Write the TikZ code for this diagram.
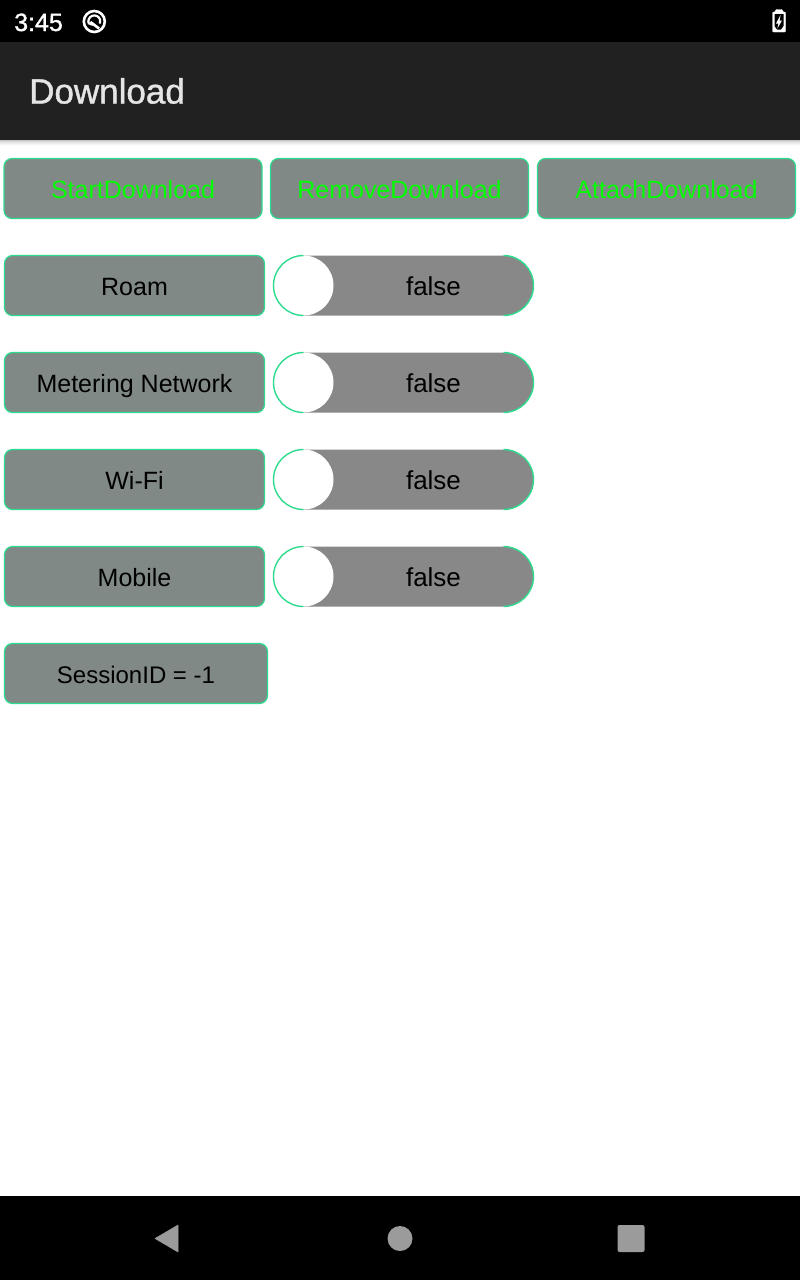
\documentclass[tikz,border=0pt]{standalone}
\usepackage{fontspec}
\setmainfont{Liberation Sans}
\newfontfamily\titlefont[FakeBold=1.2]{Liberation Sans}
\definecolor{appbar}{HTML}{212121}
\definecolor{btngray}{HTML}{808985}
\definecolor{trackgray}{HTML}{888888}
\definecolor{edgegreen}{HTML}{2EDC8F}
\definecolor{navgray}{HTML}{9B9B9B}
\definecolor{labelgreen}{HTML}{00FF00}
\tikzset{
  btn/.style={draw=edgegreen, line width=1.2pt, fill=btngray, rounded corners=8pt, inner sep=0pt,
    text=black, minimum height=60pt, text height=19pt, text depth=0pt, font=\fontsize{25}{28}\selectfont},
  greenbtn/.style={btn, text=labelgreen, minimum width=258pt},
  rowbtn/.style={btn, minimum width=260pt},
  track/.style={fill=trackgray, rounded corners=30pt, inner sep=0pt, minimum width=260pt, minimum height=60pt,
    text height=19pt, text depth=0pt, font=\fontsize{26}{28}\selectfont, text=black, text width=199pt, align=center},
  knob/.style={circle, fill=white, inner sep=0pt, minimum size=60pt},
  edgearc/.style={edgegreen, line width=1.4pt},
  navicon/.style={fill=navgray, draw=navgray, line width=0.5pt, line join=round},
}
\begin{document}
\begin{tikzpicture}[x=1pt,y=-1pt]
  \useasboundingbox (0,0) rectangle (800,1280);
  \fill[white] (0,0) rectangle (800,1280);

  % status bar, app bar, navigation bar
  \fill[black] (0,0) rectangle (800,42);
  \fill[appbar] (0,42) rectangle (800,140);
  \foreach \i/\shade in {0/22,1/16,2/11,3/7,4/4,5/2}
    \fill[black!\shade] (0,140+\i) rectangle (800,141+\i);
  \fill[black] (0,1196) rectangle (800,1280);

  \node[text=white, font=\fontsize{25}{28}\selectfont\titlefont, anchor=base west, inner sep=0pt] (clock) at (14,31) {3:45};
  \node[circle, draw=white, line width=2.6pt, minimum size=21pt, inner sep=0pt] (dnd) at (94.3,21.5) {};
  \draw[white, line width=2.2pt] (88.7,23.5) arc (160:380:6);
  \draw[white, line width=2.6pt] (90.5,22) -- (99,28.5);
  \fill[white] (87.5,24) -- (91,21.5) -- (93,26) -- cycle;

  \draw[white, fill=white, rounded corners=1pt] (772.5,12) -- (775.5,12) -- (775.5,9.5) -- (782.5,9.5) -- (782.5,12) -- (785.5,12) -- (785.5,32) -- (772.5,32) -- cycle;
  \fill[black] (774.5,14) -- (783.5,14) -- (783.5,26) -- (781,29.5) -- (777,29.5) -- (774.5,26) -- cycle;
  \fill[white] (780.5,15) -- (776,23.5) -- (778.4,23.5) -- (777.4,28.5) -- (782,20.5) -- (779.6,20.5) -- cycle;

  \node[text=white!90!black, anchor=base west, inner sep=0pt, font=\fontsize{35}{38}\selectfont\titlefont] (title) at (29,103.5) {Download};

  % top buttons
  \node[greenbtn] (start) at (133,188.5) {StartDownload};
  \node[greenbtn] (remove) at (399.5,188.5) {RemoveDownload};
  \node[greenbtn] (attach) at (666.5,188.5) {AttachDownload};

  % option rows
  \foreach \name/\txt/\y in {roam/Roam/285.5, meter/Metering Network/382.5, wifi/Wi-Fi/479.5, mobile/Mobile/576.5} {
    \node[rowbtn] (\name) at (134.5,\y) {\txt};
    \node[track] (\name track) at (403.5,\y) {\hspace*{60pt}false};
    \node[knob] (\name knob) at (303.5,\y) {};
    \draw[edgearc] (303.5,\y-30) arc (-90:-270:30);
    \draw[edgearc] (503.5,\y-30) arc (-90:0:30);
    \draw[edgearc] (533.5,\y) arc (0:90:30);
  }

  \node[btn, minimum width=263pt, font=\fontsize{24}{28}\selectfont] (session) at (136,673.5) {SessionID = -1};

  % navigation icons
  \draw[navicon] (155,1238.5) -- (178,1225) -- (178,1252) -- cycle;
  \node[circle, fill=navgray, inner sep=0pt, minimum size=25pt] (home) at (400,1238.5) {};
  \node[fill=navgray, rounded corners=2pt, inner sep=0pt, minimum size=27pt] (recent) at (631,1238.5) {};
\end{tikzpicture}
\end{document}
